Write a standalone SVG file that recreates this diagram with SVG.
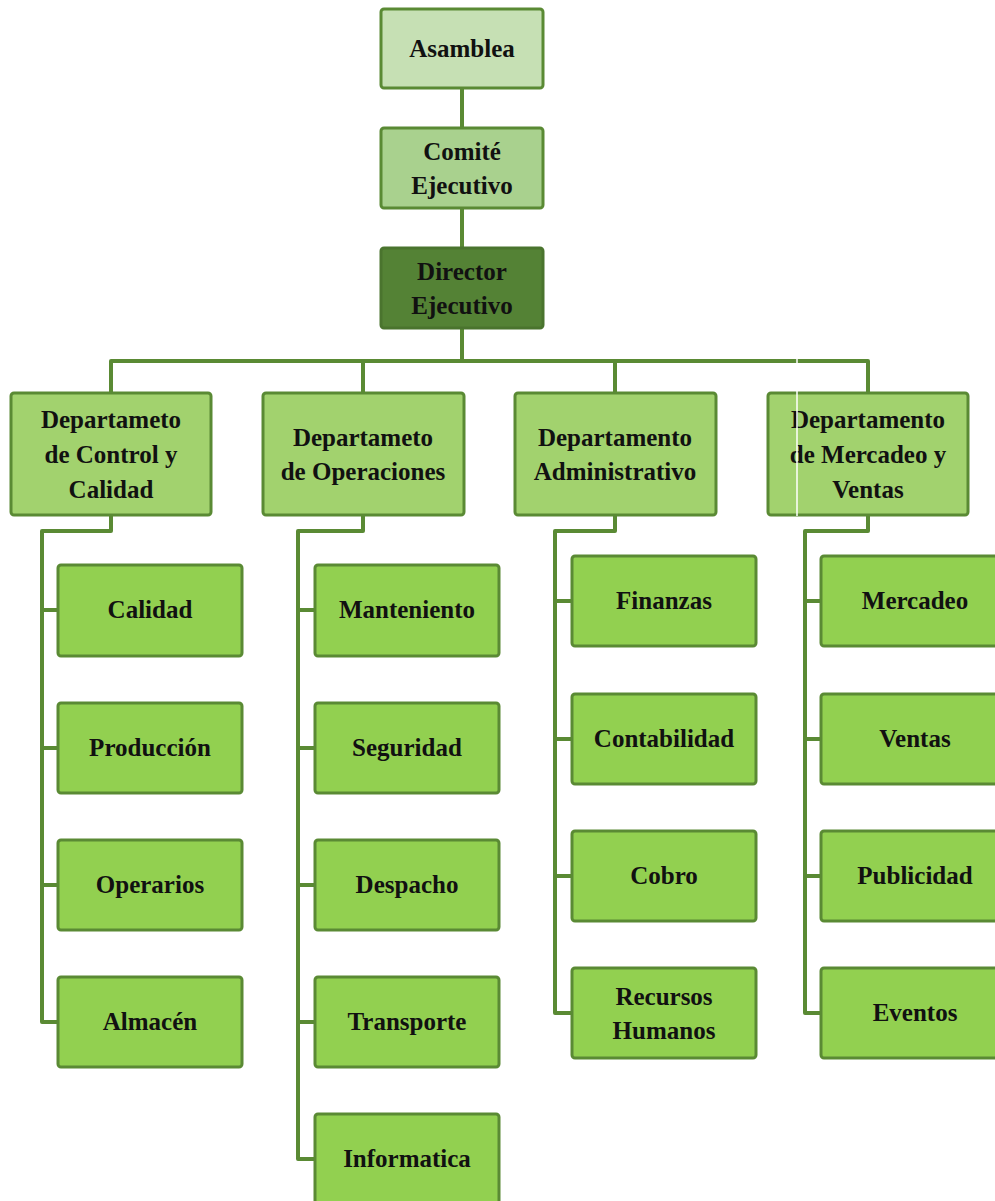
<svg xmlns="http://www.w3.org/2000/svg" width="995" height="1201" viewBox="0 0 995 1201">
<style>
.box{stroke:#5a8a34;stroke-width:3}
.l0{fill:#c6e0b4}
.l1{fill:#a9d18e}
.l2{fill:#548235;stroke:#4a742e}
.l3{fill:#a2d26e}
.l4{fill:#92d050}
text{font-family:"Liberation Serif","Times New Roman",serif;font-weight:bold;font-size:25px;fill:#111;text-anchor:middle}
.c{fill:none;stroke:#5a8a34;stroke-width:4;stroke-linejoin:round}
</style>
<rect width="995" height="1201" fill="#ffffff"/>
<g id="connectors">
<path class="c" d="M462 88V128M462 208V248M462 328V361M111 393V361H868V393M363 361V393M615 361V393"/>
<path class="c" d="M111 515V531H42V1022H58M42 610H58M42 748H58M42 885H58"/>
<path class="c" d="M363 515V531H298V1159H315M298 610H315M298 748H315M298 885H315M298 1022H315"/>
<path class="c" d="M615 515V531H555V1013H572M555 601H572M555 739H572M555 876H572"/>
<path class="c" d="M868 515V531H805V1013H821M805 601H821M805 739H821M805 876H821"/>
</g>
<g id="asamblea"><rect class="box l0" x="381" y="9" width="162" height="79" rx="3"/><text x="462" y="57">Asamblea</text></g>
<g id="comite"><rect class="box l1" x="381" y="128" width="162" height="80" rx="3"/><text x="462" y="160">Comité</text><text x="462" y="194">Ejecutivo</text></g>
<g id="director"><rect class="box l2" x="381" y="248" width="162" height="80" rx="3"/><text x="462" y="280">Director</text><text x="462" y="314">Ejecutivo</text></g>
<g id="dept-control"><rect class="box l3" x="11" y="393" width="200" height="122" rx="3"/><text x="111" y="428">Departameto</text><text x="111" y="463">de Control y</text><text x="111" y="498">Calidad</text></g>
<g id="dept-operaciones"><rect class="box l3" x="263" y="393" width="201" height="122" rx="3"/><text x="363" y="446">Departameto</text><text x="363" y="480">de Operaciones</text></g>
<g id="dept-administrativo"><rect class="box l3" x="515" y="393" width="201" height="122" rx="3"/><text x="615" y="446">Departamento</text><text x="615" y="480">Administrativo</text></g>
<g id="dept-mercadeo"><rect class="box l3" x="768" y="393" width="200" height="122" rx="3"/><text x="868" y="428">Departamento</text><text x="868" y="463">de Mercadeo y</text><text x="868" y="498">Ventas</text></g>
<line x1="797" y1="355" x2="797" y2="516" stroke="#ffffff" stroke-width="1.5"/>
<g id="calidad"><rect class="box l4" x="58" y="565" width="184" height="91" rx="3"/><text x="150" y="618">Calidad</text></g>
<g id="produccion"><rect class="box l4" x="58" y="703" width="184" height="90" rx="3"/><text x="150" y="756">Producción</text></g>
<g id="operarios"><rect class="box l4" x="58" y="840" width="184" height="90" rx="3"/><text x="150" y="893">Operarios</text></g>
<g id="almacen"><rect class="box l4" x="58" y="977" width="184" height="90" rx="3"/><text x="150" y="1030">Almacén</text></g>
<g id="manteniento"><rect class="box l4" x="315" y="565" width="184" height="91" rx="3"/><text x="407" y="618">Manteniento</text></g>
<g id="seguridad"><rect class="box l4" x="315" y="703" width="184" height="90" rx="3"/><text x="407" y="756">Seguridad</text></g>
<g id="despacho"><rect class="box l4" x="315" y="840" width="184" height="90" rx="3"/><text x="407" y="893">Despacho</text></g>
<g id="transporte"><rect class="box l4" x="315" y="977" width="184" height="90" rx="3"/><text x="407" y="1030">Transporte</text></g>
<g id="informatica"><rect class="box l4" x="315" y="1114" width="184" height="95" rx="3"/><text x="407" y="1167">Informatica</text></g>
<g id="finanzas"><rect class="box l4" x="572" y="556" width="184" height="90" rx="3"/><text x="664" y="609">Finanzas</text></g>
<g id="contabilidad"><rect class="box l4" x="572" y="694" width="184" height="90" rx="3"/><text x="664" y="747">Contabilidad</text></g>
<g id="cobro"><rect class="box l4" x="572" y="831" width="184" height="90" rx="3"/><text x="664" y="884">Cobro</text></g>
<g id="recursos"><rect class="box l4" x="572" y="968" width="184" height="90" rx="3"/><text x="664" y="1005">Recursos</text><text x="664" y="1039">Humanos</text></g>
<g id="mercadeo"><rect class="box l4" x="821" y="556" width="184" height="90" rx="3"/><text x="915" y="609">Mercadeo</text></g>
<g id="ventas"><rect class="box l4" x="821" y="694" width="184" height="90" rx="3"/><text x="915" y="747">Ventas</text></g>
<g id="publicidad"><rect class="box l4" x="821" y="831" width="184" height="90" rx="3"/><text x="915" y="884">Publicidad</text></g>
<g id="eventos"><rect class="box l4" x="821" y="968" width="184" height="90" rx="3"/><text x="915" y="1021">Eventos</text></g>
</svg>
